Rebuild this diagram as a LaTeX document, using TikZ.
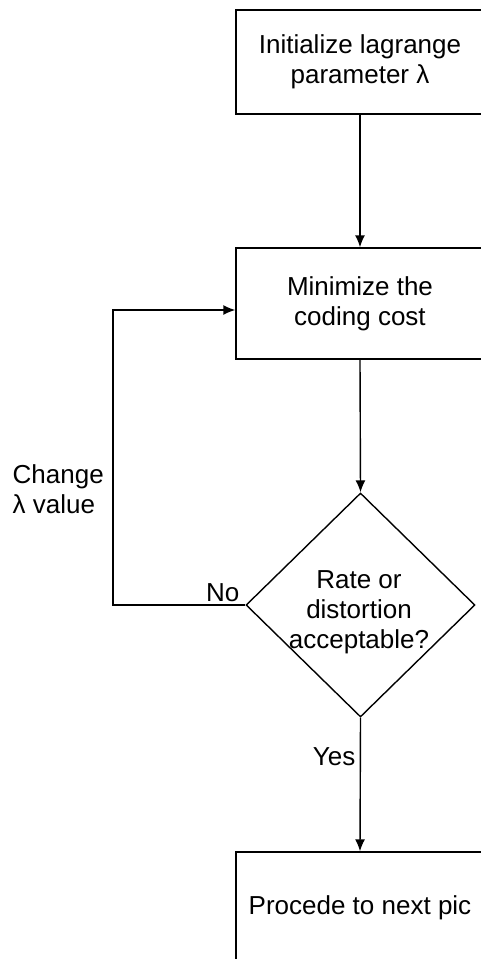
\documentclass[tikz,border=0pt]{standalone}
\usepackage{fontspec}
\setmainfont{Liberation Sans}
\usetikzlibrary{arrows.meta,shapes.geometric}

\begin{document}
\begin{tikzpicture}[x=1pt,y=-1pt,
  line width=1.4pt,
  every node/.style={font=\fontsize{26}{30}\selectfont},
  procbox/.style={draw, rectangle, minimum width=248pt, align=center, inner sep=0pt},
  decbox/.style={draw, diamond, minimum width=229pt, minimum height=224pt, inner sep=0pt},
  flow/.style={-{Latex[length=12pt,width=10pt]}},
  lbl/.style={inner sep=0pt}
]
\useasboundingbox[fill=white] (0,0) rectangle (480,959);

% process steps
\node[procbox, minimum height=104pt] (init) at (360,62)
  {Initialize lagrange\\parameter λ};
\node[procbox, minimum height=111pt] (mini) at (360,303.5)
  {Minimize the\\coding cost};
\node[decbox] (dec) at (360.5,605) {};
\node[lbl, align=center] (dectext) at (359,612)
  {Rate or\\distortion\\acceptable?};
\node[procbox, minimum height=112pt] (next) at (360,908)
  {Procede to next pic};

% main flow
\draw[flow] (init.south) -- (mini.north);
\draw[flow] (mini.south) -- (dec.north);
\draw[flow] (dec.south) -- (next.north);

% loop back when not acceptable
\coordinate (lp) at (113,310);
\draw[flow] (dec.west) -| (lp) -- (lp -| mini.west);

% labels
\node[lbl, anchor=south east] (no) at (240,602) {No};
\node[lbl, anchor=east] (yes) at (356,757) {Yes};
\node[lbl, anchor=west, align=left] (chg) at (12,489) {Change\\λ value};
\end{tikzpicture}
\end{document}
